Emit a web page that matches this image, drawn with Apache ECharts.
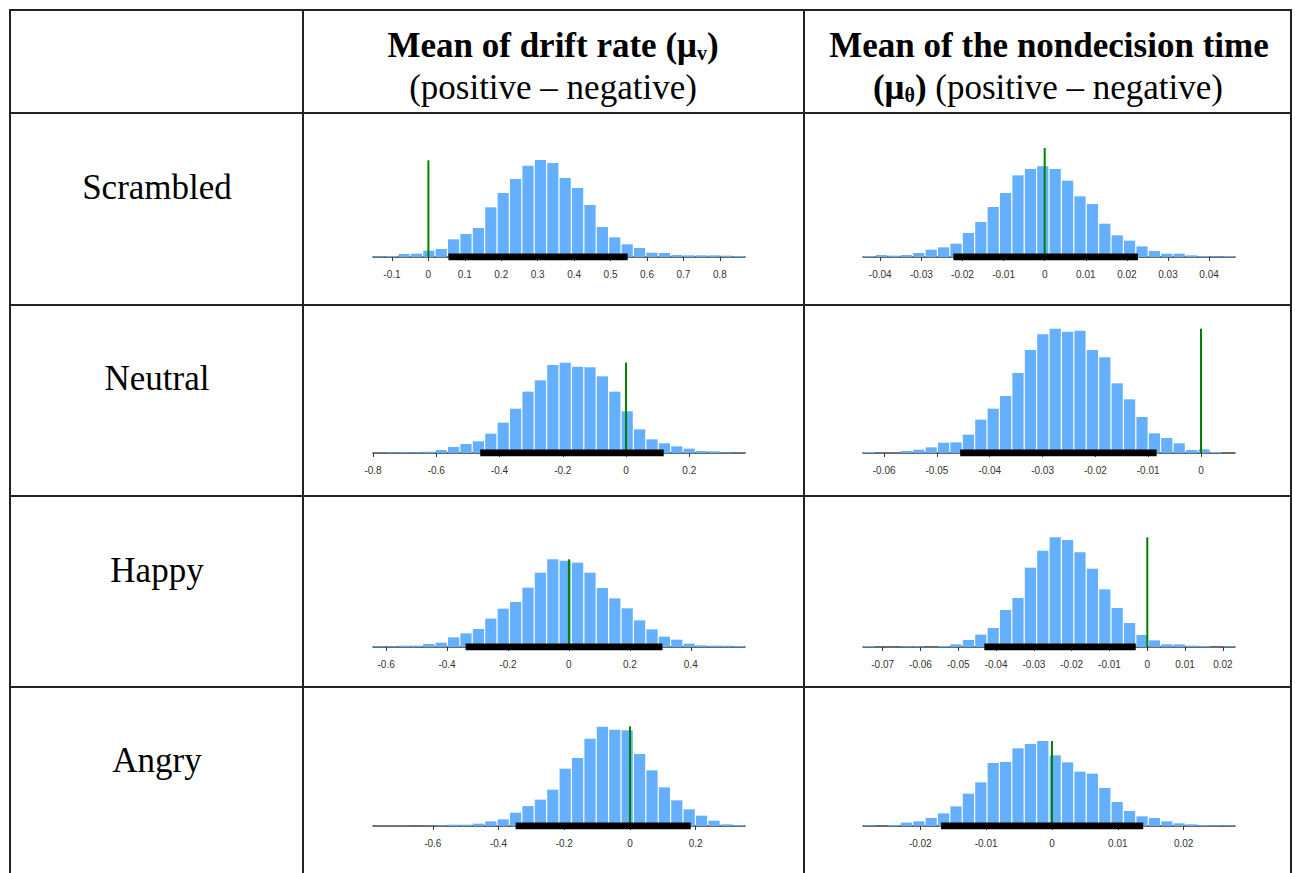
<!DOCTYPE html>
<html><head><meta charset="utf-8">
<script src="https://cdn.jsdelivr.net/npm/echarts@6/dist/echarts.min.js"></script>
<style>html,body{margin:0;padding:0;background:#fff}#c{width:1295px;height:873px}</style>
</head><body><div id="c"></div>
<script>
// ---------- data ----------
const rowLabels = ['Scrambled', 'Neutral', 'Happy', 'Angry'];
const headerDrift = ['Mean of drift rate (μ', 'v', ')', '(positive – negative)'];
const headerNdt = ['Mean of the nondecision time', '(μ', 'θ', ')', ' (positive – negative)'];

// histogram counts (30 equal bins spanning each axis range)
const scrambledDrift = [2,3,9,10,19,24,53,69,87,149,192,234,274,291,282,237,207,156,90,59,38,27,13,12,6,5,5,5,4,3];
const scrambledNdt   = [3,6,4,6,12,22,29,40,72,105,150,192,245,264,272,264,229,182,159,100,65,49,32,18,10,10,5,3,2,3];
const neutralDrift   = [1,2,2,2,4,9,18,27,35,58,91,133,184,218,264,271,259,257,230,184,125,71,41,29,20,13,6,5,2,1];
const neutralNdt     = [3,1,1,6,10,17,31,32,55,100,133,171,240,309,356,373,364,367,309,287,209,161,108,59,45,29,9,11,3,0];
const happyDrift     = [2,2,4,4,9,13,29,41,54,85,115,135,178,223,263,259,253,223,177,146,116,80,53,31,22,10,5,4,4,3];
const happyNdt       = [3,0,0,2,2,0,3,8,21,37,57,111,147,238,289,329,321,284,235,173,117,72,36,20,8,8,4,3,0,2];
const angryDrift     = [1,1,1,0,1,2,4,4,7,14,20,40,60,79,109,172,204,262,298,289,287,216,167,116,77,50,31,16,5,3];
const angryNdt       = [2,0,3,10,14,24,38,59,97,131,189,192,233,246,255,212,191,163,157,114,72,45,29,24,14,8,5,3,2,2];

const xMins  = [-0.152, -0.0442, -0.8,  -0.0640, -0.643, -0.0752, -0.782, -0.0287];
const xMaxs  = [ 0.869,  0.0463,  0.376, 0.00644, 0.578,  0.0232,  0.350,  0.0278];
const ciLow  = [ 0.055, -0.0222, -0.461, -0.0456, -0.339, -0.0431, -0.348, -0.01684];
const ciHigh = [ 0.547,  0.0227,  0.119, -0.0084,  0.307, -0.00305, 0.185,  0.01386];
const refValues  = [0, 0, 0, 0, 0, 0, 0, 0];
const refHeights = [290, 327, 271, 373, 263, 329, 299, 255];

const ticks1 = [-0.1, 0, 0.1, 0.2, 0.3, 0.4, 0.5, 0.6, 0.7, 0.8];
const ticks2 = [-0.04, -0.03, -0.02, -0.01, 0, 0.01, 0.02, 0.03, 0.04];
const ticks3 = [-0.8, -0.6, -0.4, -0.2, 0, 0.2];
const ticks4 = [-0.06, -0.05, -0.04, -0.03, -0.02, -0.01, 0];
const ticks5 = [-0.6, -0.4, -0.2, 0, 0.2, 0.4];
const ticks6 = [-0.07, -0.06, -0.05, -0.04, -0.03, -0.02, -0.01, 0, 0.01, 0.02];
const ticks7 = [-0.6, -0.4, -0.2, 0, 0.2];
const ticks8 = [-0.02, -0.01, 0, 0.01, 0.02];

// ---------- layout ----------
const histograms = [scrambledDrift, scrambledNdt, neutralDrift, neutralNdt, happyDrift, happyNdt, angryDrift, angryNdt];
const tickSets = [ticks1, ticks2, ticks3, ticks4, ticks5, ticks6, ticks7, ticks8];
const colLeft = [373, 863];
const plotWidth = 372;
const baselines = [257, 453, 647, 826];
const plotHeight = 130;
const yMax = 390;
const barColor = '#64B0FF';
const axisColor = '#3a3a3a';

const grids = [], xAxes = [], yAxes = [], series = [];
histograms.forEach((counts, i) => {
  const r = Math.floor(i / 2), c = i % 2;
  grids.push({ left: colLeft[c], width: plotWidth, top: baselines[r] - plotHeight, height: plotHeight });
  xAxes.push({
    type: 'value', gridIndex: i, min: xMins[i], max: xMaxs[i],
    splitLine: { show: false },
    axisLine: { show: true, lineStyle: { color: axisColor, width: 1.5 } },
    axisTick: { show: true, length: 4, customValues: tickSets[i], lineStyle: { color: axisColor } },
    axisLabel: { customValues: tickSets[i], margin: 12, fontSize: 10, color: '#333',
      fontFamily: 'Liberation Sans, Arial, sans-serif',
      formatter: v => String(+(+v).toFixed(3)) }
  });
  yAxes.push({ type: 'value', gridIndex: i, min: 0, max: yMax, show: false });
  const w = (xMaxs[i] - xMins[i]) / counts.length;
  series.push({
    type: 'custom', xAxisIndex: i, yAxisIndex: i, z: 2, silent: true,
    data: counts.map((v, k) => [xMins[i] + k * w, xMins[i] + (k + 1) * w, v]),
    encode: { x: [0, 1], y: 2 },
    renderItem: (params, api) => {
      const p0 = api.coord([api.value(0), api.value(2)]);
      const p1 = api.coord([api.value(1), 0]);
      return { type: 'rect',
        shape: { x: p0[0] + 0.6, y: p0[1], width: p1[0] - p0[0] - 1.2, height: p1[1] - p0[1] },
        style: { fill: barColor } };
    }
  });
  series.push({
    type: 'line', xAxisIndex: i, yAxisIndex: i, z: 3, silent: true, symbol: 'none',
    data: [[refValues[i], 0], [refValues[i], refHeights[i]]],
    lineStyle: { color: '#008000', width: 2 }
  });
  series.push({
    type: 'line', xAxisIndex: i, yAxisIndex: i, z: 4, silent: true, symbol: 'none',
    data: [[ciLow[i], 0], [ciHigh[i], 0]],
    lineStyle: { color: '#000', width: 7, cap: 'butt' }
  });
});

// table frame
const lineStyle = { stroke: '#222', lineWidth: 2 };
const vx = [10, 303, 804, 1291];
const hy = [10, 113, 305, 496, 687];
const graphic = [];
vx.forEach(x => graphic.push({ type: 'line', silent: true, shape: { x1: x, y1: hy[0] - 1, x2: x, y2: 873 }, style: lineStyle }));
hy.forEach(y => graphic.push({ type: 'line', silent: true, shape: { x1: vx[0] - 1, y1: y, x2: vx[3] + 1, y2: y }, style: lineStyle }));

const serif = 'Liberation Serif, Times New Roman, serif';
const rowY = [187, 378, 570, 760];
rowLabels.forEach((t, k) => graphic.push({ type: 'text', silent: true,
  style: { text: t, x: 157, y: rowY[k], align: 'center', verticalAlign: 'middle', font: '35px ' + serif, fill: '#000' } }));

const richStyles = {
  b: { font: 'bold 35px ' + serif, lineHeight: 40, verticalAlign: 'bottom' },
  s: { font: 'bold 20px ' + serif, lineHeight: 20, verticalAlign: 'bottom' },
  n: { font: '35px ' + serif, lineHeight: 40, verticalAlign: 'bottom' }
};
graphic.push({ type: 'text', silent: true, style: {
  text: '{b|' + headerDrift[0] + '}{s|' + headerDrift[1] + '}{b|' + headerDrift[2] + '}',
  x: 553, y: 43, align: 'center', verticalAlign: 'middle', rich: richStyles, fill: '#000' } });
graphic.push({ type: 'text', silent: true, style: {
  text: '{n|' + headerDrift[3] + '}', x: 553, y: 85, align: 'center', verticalAlign: 'middle', rich: richStyles, fill: '#000' } });
graphic.push({ type: 'text', silent: true, style: {
  text: '{b|' + headerNdt[0] + '}', x: 1049, y: 43, align: 'center', verticalAlign: 'middle', rich: richStyles, fill: '#000' } });
graphic.push({ type: 'text', silent: true, style: {
  text: '{b|' + headerNdt[1] + '}{s|' + headerNdt[2] + '}{b|' + headerNdt[3] + '}{n|' + headerNdt[4] + '}',
  x: 1048, y: 85, align: 'center', verticalAlign: 'middle', rich: richStyles, fill: '#000' } });

const chart = echarts.init(document.getElementById('c'), null, { renderer: 'svg' });
chart.setOption({ animation: false, backgroundColor: '#fff', grid: grids, xAxis: xAxes, yAxis: yAxes, series, graphic });
</script></body></html>
